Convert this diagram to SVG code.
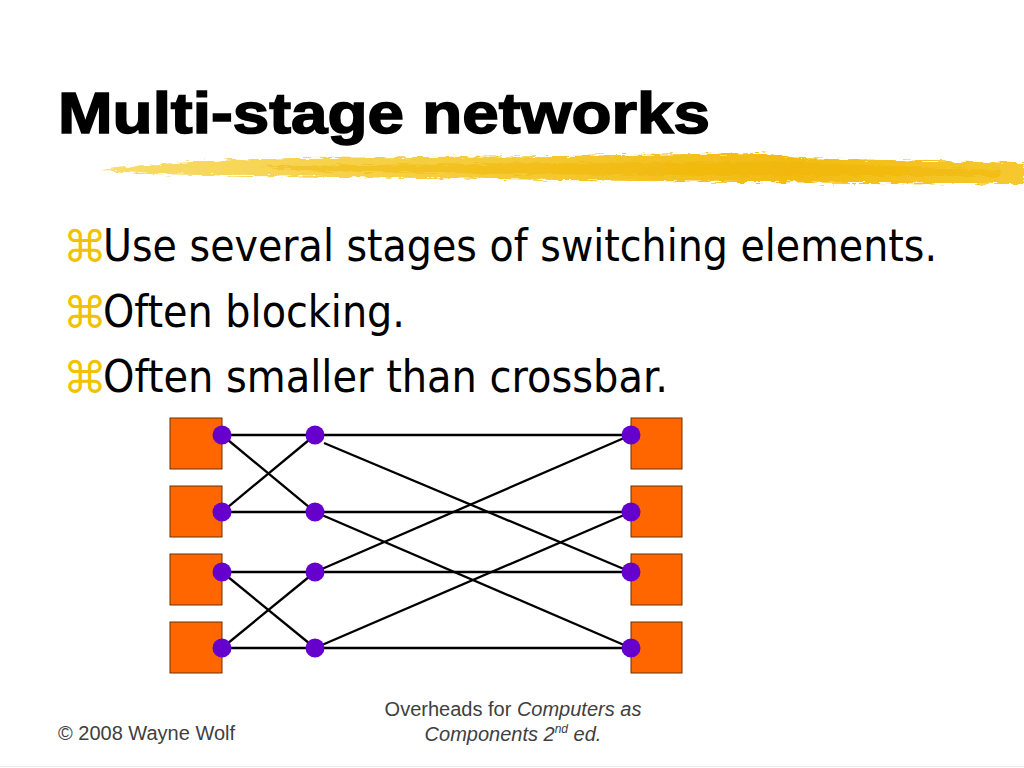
<svg xmlns="http://www.w3.org/2000/svg" width="1024" height="768" viewBox="0 0 1024 768">
<style>
.sq{fill:#FF6600;stroke:#6b3300;stroke-width:1}
.dot{fill:#6600CC}
.wire{stroke:#000;stroke-width:2.3;fill:none}
.bul{font-family:"DejaVu Sans",sans-serif;font-size:44px;fill:#F2C200}
.txt{font-family:"DejaVu Sans Condensed","DejaVu Sans",sans-serif;font-size:45px;fill:#000}
.foot{font-family:"Liberation Sans",Arial,sans-serif;font-size:20px;fill:#404040}
</style>
<defs>
<filter id="rough" x="-5%" y="-50%" width="110%" height="200%">
<feTurbulence type="fractalNoise" baseFrequency="0.08 0.6" numOctaves="3" seed="4" result="n"/>
<feDisplacementMap in="SourceGraphic" in2="n" scale="7" xChannelSelector="R" yChannelSelector="G"/>
</filter>
<linearGradient id="brushG" x1="0" y1="0" x2="1" y2="0">
<stop offset="0" stop-color="#F8DC6A"/>
<stop offset="0.4" stop-color="#F5CC3A"/>
<stop offset="0.75" stop-color="#F2BB10"/>
<stop offset="1" stop-color="#F6C830"/>
</linearGradient>
</defs>
<rect width="1024" height="768" fill="#fff"/>
<line x1="0" y1="766.5" x2="1024" y2="766.5" stroke="#ececec" stroke-width="1"/>

<g id="brush" filter="url(#rough)">
<path d="M100,170 C150,163 240,159 300,158 L560,156 L760,153 L800,158 L1024,163 L1024,184 L860,183 L640,181 L420,178 L250,176 L150,174 Z" fill="url(#brushG)"/>
<path d="M260,166 L560,163 L780,162 L1000,170 L1000,176 L760,176 L520,174 L300,171 Z" fill="#F0B400" opacity="0.45"/>
</g>

<text x="58" y="133" font-family="'Liberation Sans',Arial,sans-serif" font-weight="bold" font-size="58" fill="#000" stroke="#000" stroke-width="1.6" textLength="652" lengthAdjust="spacingAndGlyphs">Multi-stage networks</text>

<g id="bullets">
<text class="bul" x="63" y="262">⌘</text>
<text class="txt" x="103" y="261" textLength="834" lengthAdjust="spacingAndGlyphs">Use several stages of switching elements.</text>
<text class="bul" x="63" y="328">⌘</text>
<text class="txt" x="103" y="327" textLength="302" lengthAdjust="spacingAndGlyphs">Often blocking.</text>
<text class="bul" x="63" y="393">⌘</text>
<text class="txt" x="103" y="392" textLength="565" lengthAdjust="spacingAndGlyphs">Often smaller than crossbar.</text>
</g>

<g id="connectors">
<line class="wire" x1="222" y1="435" x2="315" y2="435"/>
<line class="wire" x1="222" y1="435" x2="315" y2="512"/>
<line class="wire" x1="222" y1="512" x2="315" y2="512"/>
<line class="wire" x1="222" y1="512" x2="315" y2="435"/>
<line class="wire" x1="222" y1="572" x2="315" y2="572"/>
<line class="wire" x1="222" y1="572" x2="315" y2="648"/>
<line class="wire" x1="222" y1="648" x2="315" y2="648"/>
<line class="wire" x1="222" y1="648" x2="315" y2="572"/>
<line class="wire" x1="315" y1="435" x2="631" y2="435"/>
<line class="wire" x1="324" y1="443" x2="631" y2="572"/>
<line class="wire" x1="315" y1="512" x2="631" y2="512"/>
<line class="wire" x1="315" y1="512" x2="631" y2="648"/>
<line class="wire" x1="315" y1="572" x2="631" y2="572"/>
<line class="wire" x1="315" y1="572" x2="631" y2="435"/>
<line class="wire" x1="315" y1="648" x2="631" y2="648"/>
<line class="wire" x1="315" y1="648" x2="631" y2="512"/>
</g>

<g id="in1"><rect class="sq" x="170" y="418" width="52" height="51"/><circle class="dot" cx="222" cy="435" r="9.5"/></g>
<g id="in2"><rect class="sq" x="170" y="486" width="52" height="51"/><circle class="dot" cx="222" cy="512" r="9.5"/></g>
<g id="in3"><rect class="sq" x="170" y="554" width="52" height="51"/><circle class="dot" cx="222" cy="572" r="9.5"/></g>
<g id="in4"><rect class="sq" x="170" y="622" width="52" height="51"/><circle class="dot" cx="222" cy="648" r="9.5"/></g>
<g id="mid1"><circle class="dot" cx="315" cy="435" r="9.5"/></g>
<g id="mid2"><circle class="dot" cx="315" cy="512" r="9.5"/></g>
<g id="mid3"><circle class="dot" cx="315" cy="572" r="9.5"/></g>
<g id="mid4"><circle class="dot" cx="315" cy="648" r="9.5"/></g>
<g id="out1"><rect class="sq" x="631" y="418" width="51" height="51"/><circle class="dot" cx="631" cy="435" r="9.5"/></g>
<g id="out2"><rect class="sq" x="631" y="486" width="51" height="51"/><circle class="dot" cx="631" cy="512" r="9.5"/></g>
<g id="out3"><rect class="sq" x="631" y="554" width="51" height="51"/><circle class="dot" cx="631" cy="572" r="9.5"/></g>
<g id="out4"><rect class="sq" x="631" y="622" width="51" height="51"/><circle class="dot" cx="631" cy="648" r="9.5"/></g>

<g id="footer">
<text class="foot" x="58" y="740">© 2008 Wayne Wolf</text>
<text class="foot" x="513" y="716" text-anchor="middle">Overheads for <tspan font-style="italic">Computers as</tspan></text>
<text class="foot" x="513" y="741" text-anchor="middle" font-style="italic">Components 2<tspan font-size="12" dy="-8">nd</tspan><tspan dy="8"> ed.</tspan></text>
</g>
</svg>
